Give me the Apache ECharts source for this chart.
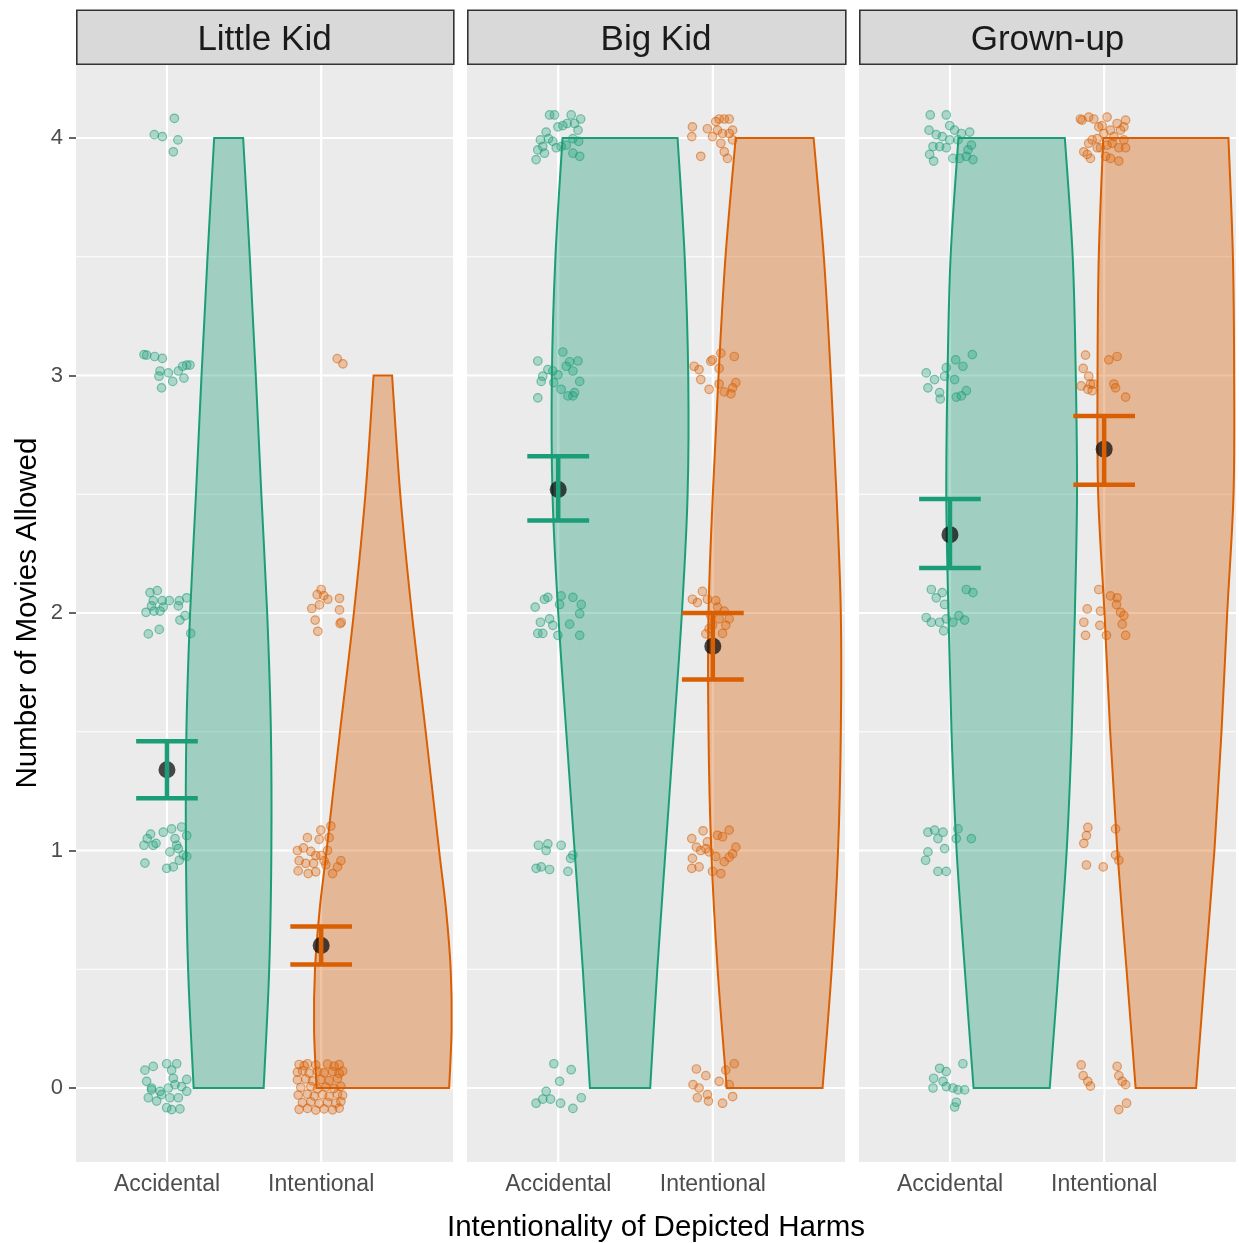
<!DOCTYPE html>
<html><head><meta charset="utf-8">
<script src="https://cdn.jsdelivr.net/npm/echarts@6/dist/echarts.min.js"></script>
<style>html,body{margin:0;padding:0;background:#fff}#c{width:1239px;height:1243px}</style>
</head><body><div id="c"></div>
<script>
// ---------------- DATA ----------------
const panels = ['Little Kid', 'Big Kid', 'Grown-up'];
const conditions = ['Accidental', 'Intentional'];
const yTicks = [0, 1, 2, 3, 4];
const yMinorTicks = [0.5, 1.5, 2.5, 3.5];
const xTicks = [1, 2];

// violin outlines: y values and half-widths (x units)
const violinLKAccY = [0, 0.5, 1, 1.5, 2, 2.5, 3, 3.5, 4];
const violinLKAccW = [0.227, 0.263, 0.277, 0.274, 0.250, 0.212, 0.176, 0.137, 0.094];
const violinLKIntY = [0, 0.25, 0.5, 0.75, 1, 1.5, 2, 2.5, 3];
const violinLKIntW = [0.430, 0.446, 0.440, 0.410, 0.365, 0.278, 0.188, 0.113, 0.060];
const violinBKAccY = [0, 0.5, 1, 1.5, 2, 2.5, 3, 3.5, 4];
const violinBKAccW = [0.195, 0.241, 0.294, 0.348, 0.400, 0.437, 0.441, 0.418, 0.372];
const violinBKIntY = [0, 0.5, 1, 1.5, 2, 2.5, 3, 3.5, 4];
const violinBKIntW = [0.310, 0.369, 0.410, 0.428, 0.428, 0.400, 0.363, 0.318, 0.252];
const violinGUAccY = [0, 0.5, 1, 1.5, 2, 2.5, 3, 3.5, 4];
const violinGUAccW = [0.247, 0.304, 0.357, 0.390, 0.410, 0.424, 0.416, 0.396, 0.345];
const violinGUIntY = [0, 0.5, 1, 1.5, 2, 2.5, 3, 3.5, 4];
const violinGUIntW = [0.196, 0.255, 0.315, 0.361, 0.398, 0.439, 0.443, 0.435, 0.406];
const violinOffset = 0.4;

// means and error bars per panel
const meanAcc = [1.34, 2.52, 2.33];
const lowAcc  = [1.22, 2.39, 2.19];
const highAcc = [1.46, 2.66, 2.48];
const meanInt = [0.60, 1.86, 2.69];
const lowInt  = [0.52, 1.72, 2.54];
const highInt = [0.68, 2.00, 2.83];
const errCapHalf = 0.2;

// jittered raw responses [x, y]
const pointsLKAcc = [
 [1.048,4.083],[0.918,4.014],[0.970,4.006],[1.071,3.992],[1.041,3.942],
 [0.851,3.088],[0.868,3.086],[0.920,3.080],[0.970,3.072],[0.955,3.019],[1.009,3.011],[0.948,2.997],[1.074,3.019],[1.102,3.039],[1.128,3.044],[1.149,3.044],[1.037,2.975],[1.110,2.989],[0.965,2.948],
 [0.890,2.086],[0.937,2.094],[0.911,2.052],[0.970,2.052],[1.015,2.052],[1.080,2.052],[1.128,2.064],[0.864,2.003],[0.916,2.008],[0.955,2.008],[0.976,2.025],[1.074,2.030],[1.117,1.989],[1.084,1.970],[0.879,1.912],[0.950,1.931],[1.154,1.914],[0.900,2.030],
 [0.894,1.069],[0.872,1.050],[0.851,1.022],[0.911,1.022],[0.929,1.030],[0.976,1.077],[1.030,1.091],[1.095,1.099],[1.052,1.050],[1.074,1.008],[1.106,0.981],[1.128,0.975],[1.019,0.994],[0.998,0.925],[1.041,0.931],[0.857,0.947],[1.128,1.063],[1.063,1.022],[1.080,0.959],
 [0.857,0.075],[0.911,0.091],[0.998,0.102],[1.063,0.102],[1.030,0.075],[0.868,0.028],[0.900,0.000],[0.955,-0.014],[1.009,0.000],[1.052,0.014],[1.128,0.036],[1.095,0.006],[0.879,-0.041],[0.965,-0.028],[1.019,-0.041],[1.074,-0.041],[0.933,-0.055],[0.998,-0.083],[1.030,-0.091],[1.084,-0.088],[1.128,-0.014],[0.900,-0.008],[1.041,0.041]
];
const pointsLKInt = [
 [2.104,3.071],[2.141,3.049],
 [2.000,2.099],[1.974,2.077],[2.017,2.073],[2.043,2.058],[1.939,2.019],[1.989,2.034],[2.119,2.062],[2.119,2.013],[1.961,1.970],[2.130,1.961],[1.978,1.923],[2.123,1.955],
 [2.063,1.103],[1.998,1.086],[1.911,1.054],[1.987,1.047],[2.052,1.054],[1.846,1.000],[1.885,1.011],[1.933,0.996],[1.965,0.979],[2.019,0.957],[1.857,0.957],[1.900,0.946],[1.950,0.946],[2.030,0.940],[2.128,0.957],[2.106,0.931],[2.074,0.903],[1.851,0.914],[1.916,0.903],[1.965,0.910],[1.998,0.979],[2.041,1.000],
 [1.857,0.099],[1.890,0.094],[1.911,0.102],[1.965,0.096],[2.041,0.101],[2.084,0.092],[2.117,0.098],
 [1.846,0.067],[1.879,0.072],[1.922,0.063],[1.976,0.070],[2.019,0.064],[2.074,0.069],[2.117,0.061],[2.139,0.071],
 [1.846,0.034],[1.900,0.038],[1.944,0.030],[1.998,0.036],[2.052,0.031],[2.106,0.040],
 [1.868,0.002],[1.933,0.006],[1.976,-0.003],[2.030,0.004],[2.084,-0.002],[2.128,0.007],
 [1.851,-0.030],[1.911,-0.026],[1.955,-0.034],[2.009,-0.028],[2.052,-0.035],[2.106,-0.025],[2.139,-0.031],
 [1.879,-0.062],[1.933,-0.058],[1.987,-0.066],[2.041,-0.060],[2.095,-0.064],[2.128,-0.057],
 [1.857,-0.090],[1.911,-0.086],[1.965,-0.093],[2.019,-0.088],[2.074,-0.092],[2.117,-0.085]
];
const pointsBKAcc = [
 [0.944,4.097],[0.976,4.097],[1.084,4.097],[1.145,4.080],[0.998,4.047],[1.030,4.052],[1.058,4.061],[1.106,4.061],[0.922,4.025],[1.128,4.033],[0.885,3.992],[0.937,3.997],[0.987,3.959],[1.019,3.964],[1.095,3.997],[1.132,3.986],[0.868,3.950],[0.911,3.936],[0.857,3.909],[1.095,3.936],[1.139,3.923],[1.052,3.970],[0.965,3.986],[0.900,3.964],
 [1.030,3.099],[0.868,3.061],[0.933,3.025],[0.965,3.019],[1.074,3.058],[1.128,3.061],[0.900,2.997],[0.998,3.003],[1.052,3.039],[1.095,3.019],[1.139,2.975],[0.868,2.906],[1.019,2.942],[1.063,2.914],[1.095,2.914],[0.890,2.975],[0.972,2.970],[1.106,2.928],
 [0.933,2.066],[1.019,2.072],[1.095,2.066],[0.851,2.025],[0.911,2.058],[1.009,2.036],[1.149,2.036],[0.885,1.961],[0.944,1.975],[0.965,1.948],[1.074,1.953],[1.139,1.997],[0.868,1.914],[0.900,1.914],[0.998,1.906],[1.139,1.906],
 [0.872,1.022],[0.933,1.028],[1.019,1.022],[0.922,1.000],[1.095,0.981],[0.857,0.925],[0.890,0.931],[0.944,0.920],[1.063,0.912],[1.080,0.967],
 [0.972,0.102],[1.084,0.077],[1.009,0.028],[0.922,-0.014],[0.857,-0.064],[0.900,-0.047],[0.950,-0.047],[1.015,-0.064],[1.095,-0.086],[1.149,-0.041]
];
const pointsBKInt = [
 [2.041,4.080],[2.074,4.080],[2.106,4.080],[2.019,4.069],[1.868,4.047],[1.965,4.039],[2.030,4.033],[2.063,4.019],[2.128,4.033],[1.864,4.006],[2.052,3.978],[2.128,3.992],[2.074,3.942],[2.095,3.914],[1.922,3.923],[2.106,4.019],[1.998,4.006],
 [2.052,3.094],[1.998,3.066],[2.139,3.080],[1.879,3.039],[1.911,3.025],[2.041,3.030],[1.987,3.060],[1.922,2.983],[2.149,2.970],[2.041,2.964],[1.976,2.942],[2.074,2.931],[2.128,2.948],[2.117,2.923],
 [1.933,2.091],[1.868,2.058],[1.965,2.058],[2.019,2.052],[2.074,2.008],[2.106,1.975],[2.030,2.025],[1.987,1.989],[2.041,1.975],[2.084,1.948],[1.976,1.934],[1.955,1.912],[2.063,1.914],[1.998,1.948],[1.900,2.044],
 [1.937,1.083],[1.864,1.050],[1.894,1.014],[1.965,1.036],[2.030,1.064],[2.063,1.058],[2.106,1.086],[2.149,1.014],[1.922,1.000],[1.976,0.994],[2.019,0.975],[2.074,0.953],[2.128,0.986],[1.868,0.967],[1.864,0.925],[1.911,0.931],[1.998,0.912],[2.052,0.903],[2.106,0.972],[1.955,1.008],
 [1.894,0.080],[1.955,0.052],[2.084,0.075],[2.139,0.102],[1.872,0.014],[1.911,0.000],[2.041,0.028],[2.106,0.014],[1.900,-0.041],[1.965,-0.028],[2.063,-0.064],[1.972,-0.055],[2.128,-0.036]
];
const pointsGUAcc = [
 [0.872,4.097],[0.976,4.097],[0.998,4.052],[0.864,4.033],[0.911,4.014],[0.950,4.006],[1.030,4.033],[1.074,4.019],[1.128,4.025],[0.933,3.964],[0.976,3.959],[0.890,3.964],[0.868,3.931],[0.894,3.903],[1.019,3.914],[1.063,3.914],[1.106,3.923],[1.149,3.909],[1.139,3.970],[1.117,3.950],[0.998,3.992],[1.052,3.992],
 [1.145,3.088],[0.976,3.033],[1.037,3.066],[1.084,3.039],[0.846,3.011],[0.900,2.983],[0.965,2.997],[1.030,2.983],[1.106,2.936],[0.857,2.948],[0.933,2.928],[0.937,2.901],[1.041,2.909],[1.074,2.914],
 [0.879,2.099],[0.950,2.086],[1.106,2.099],[1.149,2.086],[0.911,2.064],[0.965,2.036],[0.846,1.981],[0.879,1.961],[0.933,1.961],[0.976,1.975],[1.019,1.961],[1.058,1.989],[1.095,1.970],[0.959,1.925],
 [0.857,1.077],[0.900,1.086],[0.955,1.077],[1.052,1.091],[1.041,1.050],[1.139,1.050],[0.922,1.050],[0.965,1.008],[0.857,0.994],[0.842,0.959],[0.922,0.912],[0.976,0.912],
 [1.084,0.102],[0.933,0.083],[0.976,0.069],[0.894,0.041],[0.955,0.028],[1.019,0.000],[1.052,-0.008],[1.095,-0.008],[0.890,0.000],[0.976,0.006],[1.041,-0.060],[1.030,-0.080]
];
const pointsGUInt = [
 [1.846,4.080],[1.900,4.088],[1.933,4.080],[2.019,4.088],[2.139,4.075],[1.965,4.047],[2.084,4.061],[2.128,4.047],[1.998,4.019],[2.041,4.033],[2.106,4.033],[1.922,3.992],[1.955,3.997],[1.900,3.978],[1.868,3.942],[1.911,3.914],[2.019,3.970],[2.052,3.978],[2.095,3.959],[2.139,3.959],[1.976,3.959],[2.009,3.923],[2.041,3.914],[2.095,3.903],[1.857,4.075],[1.987,4.052],[2.063,4.006],[1.890,3.931],[2.128,3.992],[1.955,3.959],
 [1.879,3.086],[2.030,3.066],[2.084,3.080],[1.864,3.030],[1.900,2.997],[1.929,2.964],[1.851,2.956],[1.894,2.942],[1.922,2.936],[2.063,2.964],[2.074,2.948],[2.139,2.909],[1.911,2.964],
 [1.965,2.099],[2.041,2.072],[2.084,2.064],[1.890,2.017],[1.976,2.008],[2.080,2.036],[2.106,2.003],[1.868,1.961],[1.972,1.948],[2.128,1.989],[2.015,1.906],[2.139,1.906],[1.879,1.906],[2.117,1.953],
 [1.894,1.097],[1.885,1.063],[1.868,1.030],[2.074,1.091],[2.074,0.981],[1.885,0.939],[1.994,0.931],[2.095,0.959],
 [1.851,0.097],[2.084,0.091],[1.864,0.052],[2.095,0.052],[1.894,0.028],[1.911,0.008],[2.117,0.028],[2.139,0.014],[2.145,-0.064],[2.095,-0.091]
];

// ---------------- STYLE / LAYOUT ----------------
const colAcc = '#1B9E77', colInt = '#D95F02';
const fillAcc = 'rgba(27,158,119,0.36)', fillInt = 'rgba(217,95,2,0.36)';
const ptFill = ['rgba(27,158,119,0.30)', 'rgba(217,95,2,0.30)'];
const ptEdge = ['rgba(27,158,119,0.55)', 'rgba(217,95,2,0.55)'];
const FONT = 'Liberation Sans, Arial, Helvetica, sans-serif';
const gridBoxes = [
  {left: 76, top: 64, width: 377, height: 1098},
  {left: 467, top: 64, width: 378, height: 1098},
  {left: 859, top: 64, width: 377, height: 1098}
];
const xMin = 0.41, xMax = 2.855, yMin = -0.3116, yMax = 4.3116;

const violins = [
  [[violinLKAccY, violinLKAccW], [violinLKIntY, violinLKIntW]],
  [[violinBKAccY, violinBKAccW], [violinBKIntY, violinBKIntW]],
  [[violinGUAccY, violinGUAccW], [violinGUIntY, violinGUIntW]]
];
const points = [[pointsLKAcc, pointsLKInt], [pointsBKAcc, pointsBKInt], [pointsGUAcc, pointsGUInt]];
const means = [meanAcc, meanInt], lows = [lowAcc, lowInt], highs = [highAcc, highInt];
const lineCols = [colAcc, colInt], fills = [fillAcc, fillInt];

// smooth path (Catmull-Rom -> cubic Bezier) through screen points of one violin side
function smoothSeg(pts, start) {
  let d = start ? 'M' + pts[0][0] + ',' + pts[0][1] : 'L' + pts[0][0] + ',' + pts[0][1];
  for (let i = 0; i < pts.length - 1; i++) {
    const p0 = pts[Math.max(0, i - 1)], p1 = pts[i], p2 = pts[i + 1], p3 = pts[Math.min(pts.length - 1, i + 2)];
    const c1 = [p1[0] + (p2[0] - p0[0]) / 6, p1[1] + (p2[1] - p0[1]) / 6];
    const c2 = [p2[0] - (p3[0] - p1[0]) / 6, p2[1] - (p3[1] - p1[1]) / 6];
    d += 'C' + c1[0] + ',' + c1[1] + ' ' + c2[0] + ',' + c2[1] + ' ' + p2[0] + ',' + p2[1];
  }
  return d;
}

const grid = gridBoxes.map(g => Object.assign({show: true, backgroundColor: '#EBEBEB', borderWidth: 0,
  containLabel: false, outerBoundsMode: 'none'}, g));
const xAxis = gridBoxes.map((g, i) => ({
  type: 'value', gridIndex: i, min: xMin, max: xMax,
  axisLine: {show: false},
  splitLine: {show: false},
  axisTick: {show: true, customValues: xTicks, length: 7, lineStyle: {color: '#333333', width: 1.5}},
  axisLabel: {show: true, customValues: xTicks, margin: 11, fontSize: 23, fontFamily: FONT, color: '#4D4D4D',
    formatter: v => conditions[Math.round(v) - 1] || ''},
  name: i === 1 ? 'Intentionality of Depicted Harms' : '',
  nameLocation: 'middle', nameGap: 51,
  nameTextStyle: {fontSize: 29.5, fontFamily: FONT, color: '#000000'}
}));
const yAxis = gridBoxes.map((g, i) => ({
  type: 'value', gridIndex: i, min: yMin, max: yMax,
  axisLine: {show: false},
  splitLine: {show: false},
  axisTick: {show: i === 0, customValues: yTicks, length: 7, lineStyle: {color: '#333333', width: 1.5}},
  axisLabel: {show: i === 0, customValues: yTicks, margin: 13, fontSize: 22, fontFamily: FONT, color: '#4D4D4D'},
  name: i === 0 ? 'Number of Movies Allowed' : '',
  nameLocation: 'middle', nameGap: 33, nameRotate: 90,
  nameTextStyle: {fontSize: 29.5, fontFamily: FONT, color: '#000000'}
}));

const series = [];
for (let p = 0; p < 3; p++) {
  // grid lines
  series.push({
    type: 'custom', xAxisIndex: p, yAxisIndex: p, z: 1, silent: true,
    data: yMinorTicks.map(v => [1, v, 0]).concat(yTicks.map(v => [1, v, 1])),
    renderItem: (params, api) => {
      const cs = params.coordSys;
      const y = api.coord([1, api.value(1)])[1];
      return {type: 'line', shape: {x1: cs.x, y1: y, x2: cs.x + cs.width, y2: y},
        style: {stroke: '#FFFFFF', lineWidth: api.value(2) ? 2.2 : 1.1}};
    }
  });
  series.push({
    type: 'custom', xAxisIndex: p, yAxisIndex: p, z: 1, silent: true,
    data: xTicks.map(v => [v, 0]),
    renderItem: (params, api) => {
      const cs = params.coordSys;
      const x = api.coord([api.value(0), 0])[0];
      return {type: 'line', shape: {x1: x, y1: cs.y, x2: x, y2: cs.y + cs.height},
        style: {stroke: '#FFFFFF', lineWidth: 2.2}};
    }
  });
  for (let c = 0; c < 2; c++) {
    const [vy, vw] = violins[p][c];
    const cx = c + 1 + violinOffset;
    // violin
    series.push({
      type: 'custom', xAxisIndex: p, yAxisIndex: p, z: 2, silent: true,
      data: [[cx, 0]],
      renderItem: (params, api) => {
        const right = [], left = [];
        for (let k = 0; k < vy.length; k++) right.push(api.coord([cx + vw[k], vy[k]]));
        for (let k = vy.length - 1; k >= 0; k--) left.push(api.coord([cx - vw[k], vy[k]]));
        const d = smoothSeg(right, true) + smoothSeg(left, false) + 'Z';
        return {type: 'path', shape: {pathData: d},
          style: {fill: fills[c], stroke: lineCols[c], lineWidth: 2, lineJoin: 'miter'}};
      }
    });
    // jittered points
    series.push({
      type: 'scatter', xAxisIndex: p, yAxisIndex: p, z: 3, silent: true,
      symbol: 'circle', symbolSize: 8.5,
      itemStyle: {color: ptFill[c], borderColor: ptEdge[c], borderWidth: 1.2, opacity: 1},
      data: points[p][c]
    });
    // mean point
    series.push({
      type: 'scatter', xAxisIndex: p, yAxisIndex: p, z: 4, silent: true,
      symbol: 'circle', symbolSize: 17,
      itemStyle: {color: 'rgba(0,0,0,0.88)'},
      data: [[c + 1, means[c][p]]]
    });
    // error bar
    series.push({
      type: 'custom', xAxisIndex: p, yAxisIndex: p, z: 5, silent: true,
      data: [[c + 1, lows[c][p], highs[c][p]]],
      renderItem: (params, api) => {
        const x = api.value(0);
        const lo = api.coord([x, api.value(1)]), hi = api.coord([x, api.value(2)]);
        const l1 = api.coord([x - errCapHalf, api.value(1)]), r1 = api.coord([x + errCapHalf, api.value(1)]);
        const l2 = api.coord([x - errCapHalf, api.value(2)]), r2 = api.coord([x + errCapHalf, api.value(2)]);
        const st = {stroke: lineCols[c], lineWidth: 4.5};
        return {type: 'group', children: [
          {type: 'line', shape: {x1: lo[0], y1: lo[1], x2: hi[0], y2: hi[1]}, style: st},
          {type: 'line', shape: {x1: l1[0], y1: l1[1], x2: r1[0], y2: r1[1]}, style: st},
          {type: 'line', shape: {x1: l2[0], y1: l2[1], x2: r2[0], y2: r2[1]}, style: st}
        ]};
      }
    });
  }
}

// strips (facet labels)
const graphic = [];
gridBoxes.forEach((g, i) => {
  graphic.push({type: 'rect', left: g.left, top: 9.5, shape: {width: g.width, height: 54},
    style: {fill: '#D9D9D9', stroke: '#333333', lineWidth: 1.6}, z: 10});
  graphic.push({type: 'text', x: g.left + g.width / 2, y: 40,
    style: {text: panels[i], fontSize: 35, fontFamily: FONT, fill: '#1A1A1A', align: 'center', verticalAlign: 'middle'}, z: 11});
});

const chart = echarts.init(document.getElementById('c'), null, {renderer: 'canvas'});
chart.setOption({animation: false, backgroundColor: '#FFFFFF', grid, xAxis, yAxis, series, graphic});
</script></body></html>
